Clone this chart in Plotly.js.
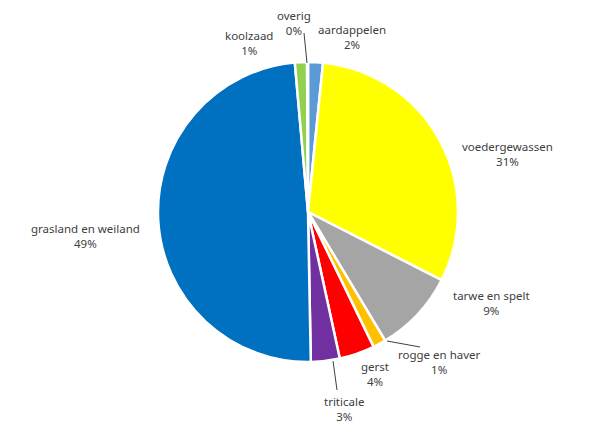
<!DOCTYPE html>
<html>
<head>
<meta charset="utf-8">
<script src="https://cdn.plot.ly/plotly-3.0.1.min.js"></script>
<style>html,body{margin:0;padding:0;background:#fff;}#chart{width:600px;height:432px;}</style>
</head>
<body>
<div id="chart"></div>
<script>
const categories = ["aardappelen", "voedergewassen", "tarwe en spelt", "rogge en haver", "gerst", "triticale", "grasland en weiland", "koolzaad", "overig"];
const shares = [1.6, 30.9, 8.9, 1.4, 3.8, 3.1, 48.9, 1.3, 0.1];
const sliceColors = ["#5B9BD5", "#FFFF00", "#A5A5A5", "#FFC000", "#FF0000", "#7030A0", "#0070C0", "#92D050", "#404040"];

// label positions (pixels, center of text block)
const labelPos = [
  [352, 37], [507, 154], [491, 303], [440, 362], [375, 374], [344, 409], [85, 236], [249, 43], [294, 23]
];
// leader lines (pixels)
const leaders = [
  [[304, 33], [307, 63]],
  [[387, 341], [420, 347]],
  [[333, 361], [337, 390]]
];

const W = 600, H = 432;
const total = shares.reduce((a, b) => a + b, 0);
const cx = 308, cy = 212, r = 150;

const annotations = categories.map((c, i) => ({
  xref: "paper", yref: "paper",
  x: labelPos[i][0] / W, y: 1 - labelPos[i][1] / H,
  xanchor: "center", yanchor: "middle",
  text: c + "<br>" + Math.round(shares[i] / total * 100) + "%",
  showarrow: false,
  align: "center",
  font: {family: "Noto Sans, Open Sans, sans-serif", size: 11.5, color: "#404040"}
}));

const shapes = leaders.map(l => ({
  type: "line", xref: "paper", yref: "paper",
  x0: l[0][0] / W, y0: 1 - l[0][1] / H, x1: l[1][0] / W, y1: 1 - l[1][1] / H,
  line: {color: "#404040", width: 1}
}));

const trace = {
  type: "pie",
  labels: categories,
  values: shares,
  sort: false,
  direction: "clockwise",
  rotation: 0,
  marker: {colors: sliceColors, line: {color: "#ffffff", width: 2.5}},
  textinfo: "none",
  hoverinfo: "label+percent",
  showlegend: false,
  domain: {x: [(cx - r) / W, (cx + r) / W], y: [(H - cy - r) / H, (H - cy + r) / H]}
};

const layout = {
  width: W, height: H,
  margin: {l: 0, r: 0, t: 0, b: 0},
  paper_bgcolor: "#ffffff",
  showlegend: false,
  annotations: annotations,
  shapes: shapes
};

Plotly.newPlot("chart", [trace], layout, {displayModeBar: false, staticPlot: true});
</script>
</body>
</html>
